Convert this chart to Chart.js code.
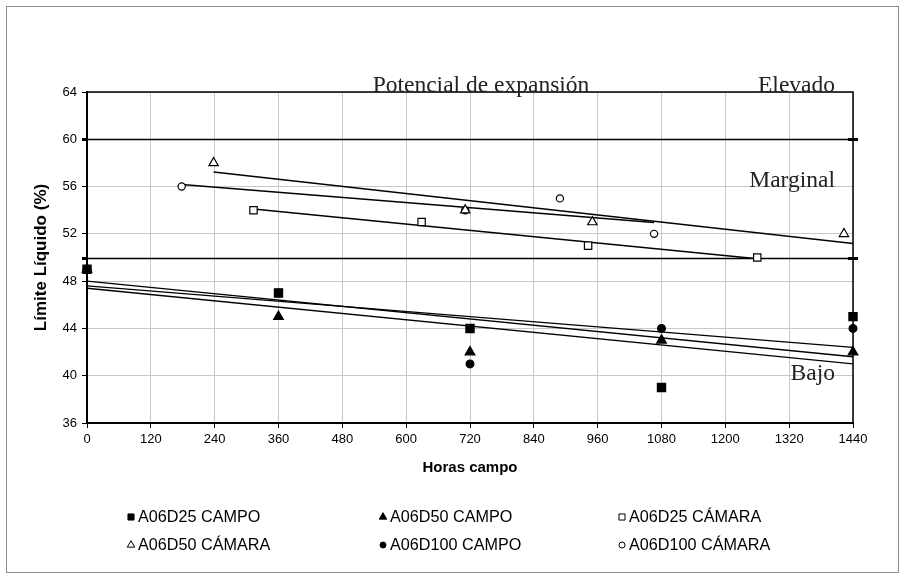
<!DOCTYPE html>
<html><head><meta charset="utf-8">
<script src="https://cdn.jsdelivr.net/npm/chart.js@4/dist/chart.umd.min.js"></script>
<style>html,body{margin:0;padding:0;background:#fff}canvas{display:block}</style>
</head><body>
<canvas id="c" width="906" height="580"></canvas>
<script>
// ---- data ----
const seriesLabels = ['A06D25 CAMPO','A06D50 CAMPO','A06D25 CÁMARA','A06D50 CÁMARA','A06D100 CAMPO','A06D100 CÁMARA'];
const campoHours = [0, 360, 720, 1080, 1440];
const d25CampoValues = [49, 47, 44, 39, 45];
const d50CampoValues = [49, 45, 42, 43, 42];
const d100CampoValues = [49, 47, 41, 44, 44];
const d25CamaraHours = [313, 629, 942, 1260];
const d25CamaraValues = [54, 53, 51, 50];
const d50CamaraHours = [238, 711, 950, 1423];
const d50CamaraValues = [58, 54, 53, 52];
const d100CamaraHours = [178, 711, 889, 1066];
const d100CamaraValues = [56, 54, 55, 52];
const trendForward = [0, 0, 0, 17, 0, 0];
const xTicks = [0,120,240,360,480,600,720,840,960,1080,1200,1320,1440];
const yTicks = [36,40,44,48,52,56,60,64];
const potentialLimits = [50, 60];
const potentialLabels = ['Potencial de expansión','Elevado','Marginal','Bajo'];
const xTitle = 'Horas campo';
const yTitle = 'Límite Líquido (%)';

const seriesHours = [campoHours, campoHours, d25CamaraHours, d50CamaraHours, campoHours, d100CamaraHours];
const seriesValues = [d25CampoValues, d50CampoValues, d25CamaraValues, d50CamaraValues, d100CampoValues, d100CamaraValues];
const pointStyles = ['rect','triangle','rect','triangle','circle','circle'];
const filled = [true, true, false, false, true, false];
const radii = [5.8, 5.6, 5.2, 5.4, 3.9, 3.6];

function regression(xs, ys) {
  const n = xs.length;
  const mx = xs.reduce((a,b)=>a+b,0)/n, my = ys.reduce((a,b)=>a+b,0)/n;
  let sxy = 0, sxx = 0;
  for (let i=0;i<n;i++){ sxy += (xs[i]-mx)*(ys[i]-my); sxx += (xs[i]-mx)**2; }
  const m = sxy/sxx; return {m, b: my - m*mx};
}

const datasets = [];
seriesLabels.forEach((lab, i) => {
  const xs = seriesHours[i], ys = seriesValues[i];
  datasets.push({
    type: 'scatter', label: lab,
    data: xs.map((x, k) => ({x, y: ys[k]})),
    pointStyle: pointStyles[i], pointRadius: radii[i], pointHoverRadius: radii[i],
    backgroundColor: filled[i] ? '#000' : '#fff', borderColor: '#000', pointBorderWidth: 1.2,
    showLine: false, clip: false, order: 1
  });
});
seriesLabels.forEach((lab, i) => {
  const xs = seriesHours[i], ys = seriesValues[i];
  const r = regression(xs, ys);
  const x0 = Math.min(...xs), x1 = Math.max(...xs) + trendForward[i];
  datasets.push({
    type: 'line', label: 'trend ' + lab, isTrend: true,
    data: [{x: x0, y: r.b + r.m*x0}, {x: x1, y: r.b + r.m*x1}],
    borderColor: '#000', borderWidth: 1.4, pointRadius: 0, fill: false, order: 2
  });
});

const bgPlugin = {
  id: 'bg',
  beforeDraw(chart) {
    const ctx = chart.ctx;
    ctx.save();
    ctx.fillStyle = '#fff'; ctx.fillRect(0,0,chart.width,chart.height);
    ctx.strokeStyle = '#8c8c8c'; ctx.lineWidth = 1;
    ctx.strokeRect(6.5, 6.5, 892, 566);
    ctx.restore();
  }
};

const framePlugin = {
  id: 'frame',
  beforeDatasetsDraw(chart) {
    const {ctx, chartArea: a, scales: {y}} = chart;
    ctx.save();
    ctx.strokeStyle = '#000';
    ctx.lineWidth = 1.5;
    ctx.beginPath();
    ctx.moveTo(a.left, a.top); ctx.lineTo(a.right, a.top); ctx.lineTo(a.right, a.bottom);
    ctx.stroke();
    potentialLimits.forEach(v => {
      const py = Math.round(y.getPixelForValue(v)) + 0.5;
      ctx.lineWidth = 1.5;
      ctx.beginPath(); ctx.moveTo(a.left, py); ctx.lineTo(a.right, py); ctx.stroke();
      ctx.lineWidth = 3;
      ctx.beginPath(); ctx.moveTo(a.left - 5, py); ctx.lineTo(a.left, py); ctx.stroke();
      ctx.beginPath(); ctx.moveTo(a.right - 5, py); ctx.lineTo(a.right + 5, py); ctx.stroke();
    });
    ctx.restore();
  }
};

const labelsPlugin = {
  id: 'potLabels',
  afterDatasetsDraw(chart) {
    const {ctx, chartArea: a, scales: {x, y}} = chart;
    ctx.save();
    ctx.fillStyle = '#222';
    ctx.font = '23.5px "Liberation Serif", "DejaVu Serif", serif';
    ctx.textBaseline = 'alphabetic';
    ctx.textAlign = 'left';
    ctx.fillText(potentialLabels[0], x.getPixelForValue(537), y.getPixelForValue(64));
    ctx.textAlign = 'right';
    const rx = a.right - 18;
    ctx.fillText(potentialLabels[1], rx, y.getPixelForValue(64));
    ctx.fillText(potentialLabels[2], rx, y.getPixelForValue(56));
    ctx.fillText(potentialLabels[3], rx, y.getPixelForValue(39.6));
    ctx.restore();
  }
};

const legendPlugin = {
  id: 'gridLegend',
  afterDraw(chart) {
    const ctx = chart.ctx;
    const colX = [131, 383, 622];
    const rowY = [517, 545];
    ctx.save();
    ctx.font = '16.2px "Liberation Sans", Arial, sans-serif';
    ctx.textBaseline = 'middle';
    ctx.textAlign = 'left';
    chart.data.datasets.forEach((ds, i) => {
      if (ds.isTrend) return;
      const cx = colX[i % 3], cy = rowY[Math.floor(i / 3)];
      ctx.fillStyle = ds.backgroundColor;
      ctx.strokeStyle = '#000';
      ctx.lineWidth = 1;
      const r = ds.pointStyle === 'circle' ? 3 : 4.3;
      Chart.helpers.drawPoint(ctx, {pointStyle: ds.pointStyle, radius: r, rotation: 0, borderWidth: 1}, cx, cy);
      ctx.fillStyle = '#000';
      ctx.fillText(ds.label, cx + 7, cy + 1);
    });
    ctx.restore();
  }
};

const tickFont = {family: '"Liberation Sans", Arial, sans-serif', size: 13};
const xTitleFont = {family: '"Liberation Sans", Arial, sans-serif', size: 15, weight: 'bold'};
const yTitleFont = {family: '"Liberation Sans", Arial, sans-serif', size: 17, weight: 'bold'};

new Chart(document.getElementById('c'), {
  data: {datasets},
  options: {
    responsive: false, animation: false,
    layout: {padding: {left: 0, right: 53, top: 92, bottom: 0}},
    plugins: {legend: {display: false}, tooltip: {enabled: false}, title: {display: false}},
    scales: {
      x: {
        type: 'linear', min: 0, max: 1440,
        afterBuildTicks: s => { s.ticks = xTicks.map(v => ({value: v})); },
        afterFit: s => { s.height = 157; },
        ticks: {font: tickFont, color: '#000', padding: 4, maxRotation: 0, autoSkip: false, callback: v => String(v)},
        grid: {color: '#c8c8c8', lineWidth: 1, tickColor: '#000', tickLength: 5, drawTicks: true},
        border: {color: '#000', width: 2},
        title: {display: true, text: xTitle, font: xTitleFont, color: '#000', padding: {top: 0, bottom: 103}}
      },
      y: {
        type: 'linear', min: 36, max: 64,
        afterBuildTicks: s => { s.ticks = yTicks.map(v => ({value: v})); },
        afterFit: s => { s.width = 87; },
        ticks: {font: tickFont, color: '#000', padding: 5, callback: v => String(v)},
        grid: {color: '#c8c8c8', lineWidth: 1, tickColor: '#000', tickLength: 5},
        border: {color: '#000', width: 2},
        title: {display: true, text: yTitle, font: yTitleFont, color: '#000', padding: {top: 31, bottom: 0}}
      }
    }
  },
  plugins: [bgPlugin, framePlugin, labelsPlugin, legendPlugin]
});
</script>
</body></html>
